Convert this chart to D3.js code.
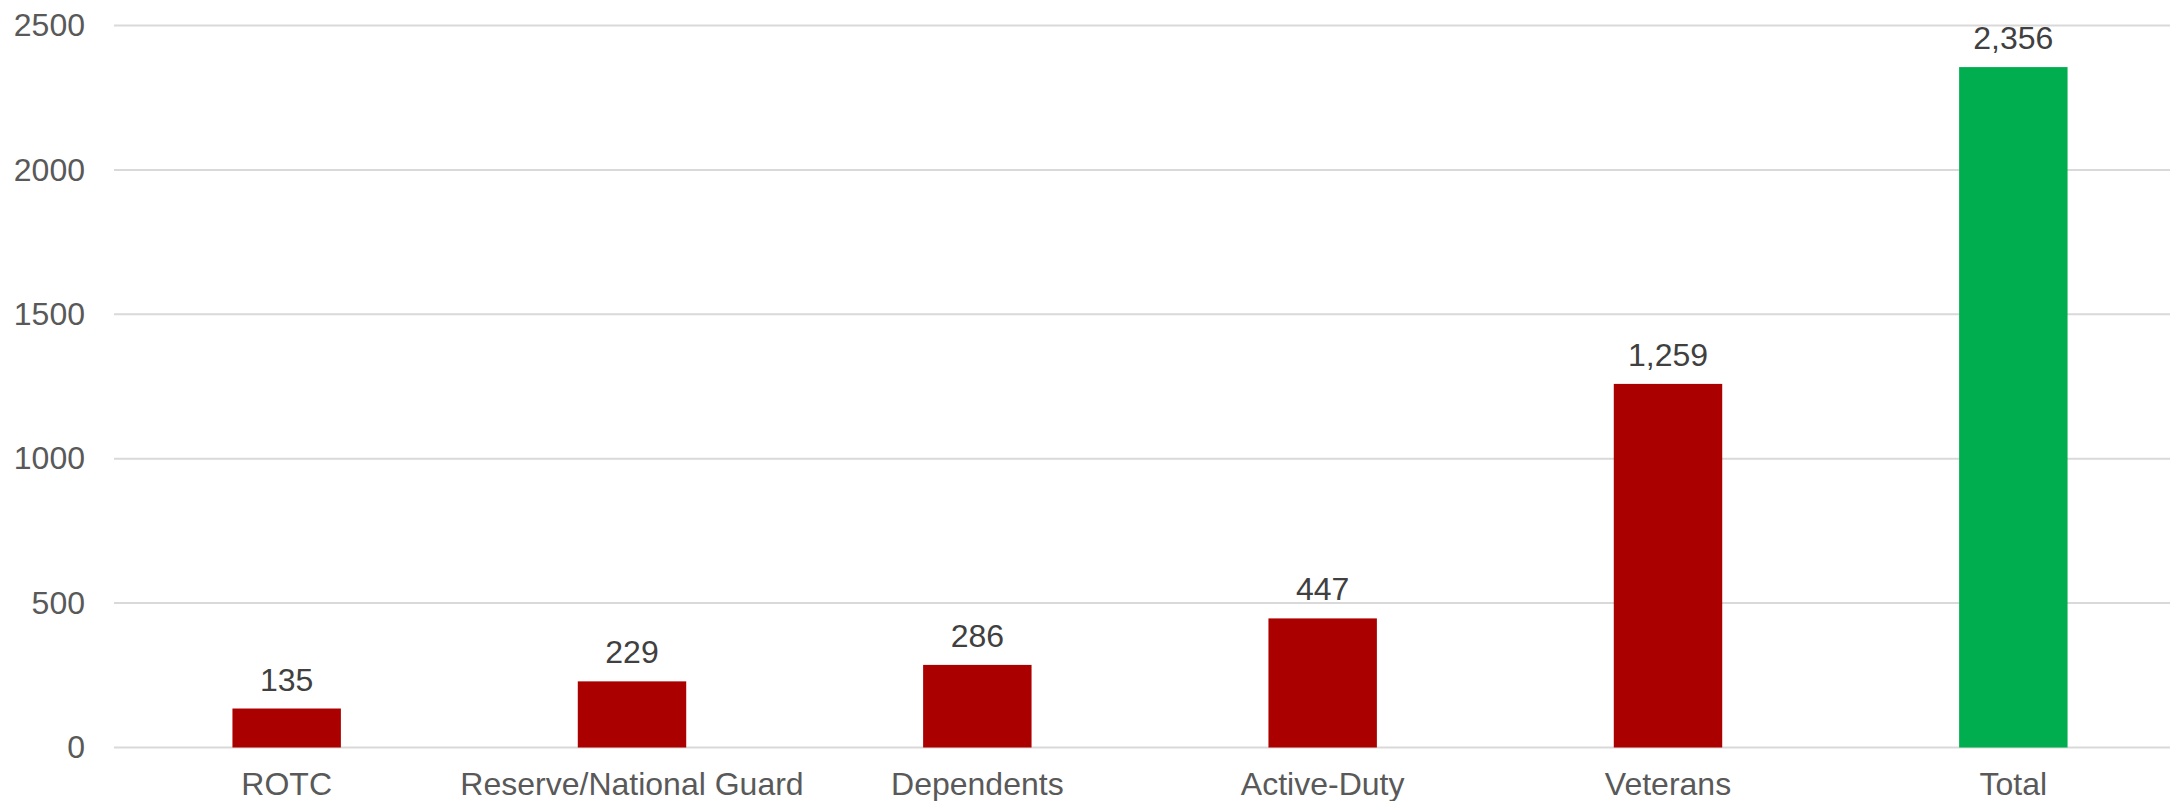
<!DOCTYPE html>
<html>
<head>
<meta charset="utf-8">
<script src="https://cdn.jsdelivr.net/npm/d3@7"></script>
<style>
  body { margin: 0; background: #fff; }
  text { font-family: "Liberation Sans", Arial, sans-serif; }
</style>
</head>
<body>
<div id="chart"></div>
<script>
var categories = ["ROTC", "Reserve/National Guard", "Dependents", "Active-Duty", "Veterans", "Total"];
var counts = [135, 229, 286, 447, 1259, 2356];
var barColors = ["#ab0000", "#ab0000", "#ab0000", "#ab0000", "#ab0000", "#00ae4f"];
var yTicks = [0, 500, 1000, 1500, 2000, 2500];

var svgWidth = 2170;
var svgHeight = 801;

var svg = d3.select("#chart")
  .append("svg")
  .attr("width", svgWidth)
  .attr("height", svgHeight);

// the plot area runs a little past the right edge of the picture
var xScale = d3.scaleBand()
  .domain(categories)
  .range([114, 2186])
  .paddingInner(0.686)
  .paddingOuter(0.343);

var yScale = d3.scaleLinear()
  .domain([0, 2500])
  .range([747.5, 25.5]);

// gridlines
svg.append("g")
  .selectAll("line")
  .data(yTicks)
  .enter()
  .append("line")
  .attr("x1", 114)
  .attr("x2", svgWidth)
  .attr("y1", d => yScale(d))
  .attr("y2", d => yScale(d))
  .attr("stroke", "#d9d9d9")
  .attr("stroke-width", 2);

// y axis labels
var leftAxis = d3.axisLeft(yScale).tickValues(yTicks).tickSize(0).tickPadding(0).tickFormat(d3.format("d"));
var yAxis = svg.append("g")
  .attr("transform", "translate(85,0)")
  .call(leftAxis);
yAxis.select(".domain").remove();
yAxis.selectAll("text")
  .attr("font-size", "32px")
  .attr("font-family", "Liberation Sans, Arial, sans-serif")
  .attr("fill", "#595959");

// bars
svg.append("g")
  .selectAll("rect")
  .data(categories)
  .enter()
  .append("rect")
  .attr("x", d => xScale(d))
  .attr("width", xScale.bandwidth())
  .attr("y", (d, i) => yScale(counts[i]))
  .attr("height", (d, i) => yScale(0) - yScale(counts[i]))
  .attr("fill", (d, i) => barColors[i]);

// value labels
svg.append("g")
  .selectAll("text")
  .data(categories)
  .enter()
  .append("text")
  .attr("x", d => xScale(d) + xScale.bandwidth() / 2)
  .attr("y", (d, i) => yScale(counts[i]) - 18)
  .attr("text-anchor", "middle")
  .attr("font-size", "32px")
  .attr("fill", "#404040")
  .text((d, i) => d3.format(",")(counts[i]));

// x axis labels
var bottomAxis = d3.axisBottom(xScale).tickSize(0).tickPadding(0);
var xAxis = svg.append("g")
  .attr("transform", "translate(0,772)")
  .call(bottomAxis);
xAxis.select(".domain").remove();
xAxis.selectAll("text")
  .attr("dy", "0.71em")
  .attr("font-size", "32px")
  .attr("font-family", "Liberation Sans, Arial, sans-serif")
  .attr("fill", "#595959");
</script>
</body>
</html>
